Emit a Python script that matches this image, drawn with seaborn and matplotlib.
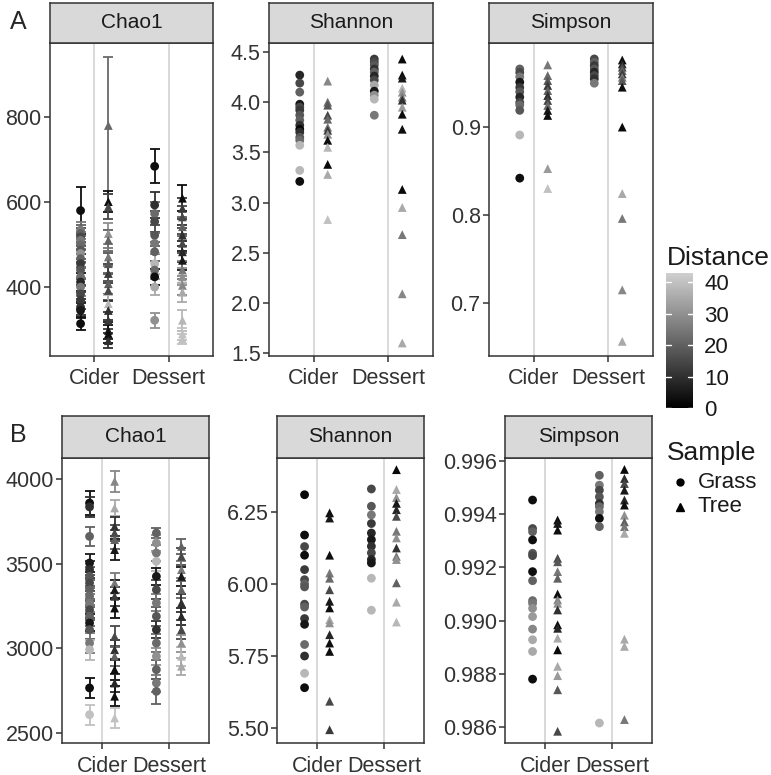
import numpy as np
import pandas as pd
import matplotlib
matplotlib.use("Agg")
import matplotlib.pyplot as plt
import seaborn as sns
from matplotlib.colors import LinearSegmentedColormap, Normalize
from matplotlib.lines import Line2D

sns.set_theme(style="white")
plt.rcParams['font.family'] = ['Liberation Sans', 'DejaVu Sans']

# ---- data: row A ----
a_chao1_cider_grass = [580, 534, 526, 518, 510, 499, 487, 479, 467, 455, 440, 424, 412, 400, 384, 369, 353, 345, 314]
a_chao1_cider_grass_se = [55, 20, 20, 22, 20, 22, 20, 22, 20, 22, 20, 22, 20, 22, 20, 20, 18, 18, 15]
a_chao1_cider_grass_d = [3, 25, 20, 15, 25, 22, 18, 30, 20, 12, 18, 22, 8, 25, 15, 12, 10, 5, 3]
a_chao1_cider_tree = [780, 601, 589, 526, 510, 471, 455, 432, 408, 392, 361, 345, 322, 298, 290, 274]
a_chao1_cider_tree_se = [160, 25, 30, 25, 25, 22, 25, 22, 25, 22, 20, 22, 20, 20, 22, 18]
a_chao1_cider_tree_d = [22, 3, 15, 30, 20, 25, 18, 12, 20, 15, 38, 10, 12, 5, 3, 10]
a_chao1_dessert_grass = [684, 593, 573, 554, 522, 503, 483, 455, 440, 424, 400, 322]
a_chao1_dessert_grass_se = [40, 30, 28, 25, 25, 25, 22, 25, 22, 18, 18, 18]
a_chao1_dessert_grass_d = [3, 10, 22, 15, 18, 25, 20, 38, 22, 3, 35, 30]
a_chao1_dessert_tree = [609, 585, 565, 542, 522, 503, 483, 463, 440, 424, 404, 388, 322, 290, 278]
a_chao1_dessert_tree_se = [30, 25, 25, 22, 25, 22, 25, 22, 22, 20, 22, 22, 25, 15, 12]
a_chao1_dessert_tree_d = [3, 12, 15, 20, 10, 15, 8, 5, 25, 30, 28, 35, 38, 40, 40]

a_shannon_cider_grass = [4.27, 4.19, 4.10, 3.98, 3.95, 3.92, 3.87, 3.82, 3.77, 3.73, 3.70, 3.65, 3.62, 3.57, 3.32, 3.21]
a_shannon_cider_grass_d = [8, 15, 20, 5, 15, 12, 18, 20, 10, 2, 10, 18, 22, 38, 38, 3]
a_shannon_cider_tree = [4.21, 4.00, 3.97, 3.87, 3.83, 3.75, 3.72, 3.68, 3.62, 3.55, 3.38, 3.28, 2.83]
a_shannon_cider_tree_d = [28, 22, 18, 15, 22, 25, 12, 30, 3, 38, 2, 35, 40]
a_shannon_dessert_grass = [4.43, 4.40, 4.37, 4.33, 4.30, 4.26, 4.22, 4.17, 4.11, 4.07, 4.03, 3.87]
a_shannon_dessert_grass_d = [12, 15, 18, 10, 20, 8, 15, 35, 5, 30, 38, 25]
a_shannon_dessert_tree = [4.43, 4.27, 4.24, 4.14, 4.10, 4.05, 4.02, 3.95, 3.88, 3.73, 3.13, 2.95, 2.68, 2.09, 1.60]
a_shannon_dessert_tree_d = [2, 3, 5, 38, 30, 25, 10, 32, 3, 3, 2, 35, 25, 28, 35]

a_simpson_cider_grass = [0.966, 0.962, 0.957, 0.951, 0.945, 0.940, 0.934, 0.928, 0.925, 0.919, 0.891, 0.842]
a_simpson_cider_grass_d = [20, 15, 25, 5, 12, 18, 8, 15, 22, 18, 38, 3]
a_simpson_cider_tree = [0.9706, 0.9585, 0.9528, 0.9472, 0.9415, 0.9358, 0.9302, 0.9245, 0.9189, 0.9132, 0.8528, 0.8302]
a_simpson_cider_tree_d = [25, 22, 18, 12, 20, 10, 15, 22, 5, 3, 32, 40]
a_simpson_dessert_grass = [0.9774, 0.9736, 0.9698, 0.966, 0.9623, 0.9585, 0.9547, 0.9498]
a_simpson_dessert_grass_d = [15, 20, 12, 18, 8, 15, 10, 25]
a_simpson_dessert_tree = [0.9762, 0.9717, 0.968, 0.9642, 0.9604, 0.9566, 0.9528, 0.9453, 0.900, 0.8245, 0.7962, 0.7151, 0.6566]
a_simpson_dessert_tree_d = [3, 8, 15, 20, 12, 25, 18, 3, 2, 35, 25, 28, 35]

# ---- data: row B ----
b_chao1_cider_grass = [3858, 3835, 3661, 3504, 3465, 3425, 3386, 3346, 3307, 3268, 3228, 3189, 3150, 3110, 3031, 2992, 2766, 2608]
b_chao1_cider_grass_se = [70, 60, 55, 55, 50, 55, 50, 55, 50, 55, 50, 55, 50, 55, 60, 60, 60, 60]
b_chao1_cider_grass_d = [3, 10, 20, 5, 10, 18, 15, 20, 22, 25, 15, 20, 5, 18, 25, 38, 3, 40]
b_chao1_cider_tree = [3986, 3829, 3720, 3681, 3642, 3583, 3386, 3346, 3307, 3238, 3071, 2992, 2953, 2874, 2795, 2717, 2589]
b_chao1_cider_tree_se = [60, 45, 55, 50, 55, 60, 60, 55, 55, 60, 60, 55, 55, 60, 55, 60, 60]
b_chao1_cider_tree_d = [28, 35, 10, 15, 20, 5, 25, 5, 12, 3, 15, 10, 20, 3, 8, 3, 40]
b_chao1_dessert_grass = [3681, 3622, 3563, 3514, 3425, 3346, 3268, 3189, 3110, 3031, 2953, 2874, 2795, 2746]
b_chao1_dessert_grass_se = [30, 50, 50, 55, 50, 55, 50, 55, 50, 55, 50, 55, 50, 75]
b_chao1_dessert_grass_d = [20, 30, 25, 38, 5, 15, 25, 18, 10, 22, 30, 20, 25, 20]
b_chao1_dessert_tree = [3602, 3543, 3465, 3425, 3346, 3268, 3189, 3110, 3031, 2953, 2894]
b_chao1_dessert_tree_se = [45, 50, 50, 55, 50, 55, 50, 55, 50, 55, 50]
b_chao1_dessert_tree_d = [20, 15, 25, 5, 20, 10, 8, 15, 30, 38, 35]

b_shannon_cider_grass = [6.31, 6.17, 6.13, 6.10, 6.05, 6.015, 6.00, 5.99, 5.93, 5.92, 5.88, 5.86, 5.79, 5.75, 5.69, 5.64]
b_shannon_cider_grass_d = [2, 3, 15, 3, 12, 15, 20, 18, 15, 20, 12, 5, 22, 10, 38, 3]
b_shannon_cider_tree = [6.247, 6.229, 6.10, 6.038, 6.02, 5.98, 5.94, 5.917, 5.876, 5.865, 5.824, 5.795, 5.766, 5.593, 5.494]
b_shannon_cider_tree_d = [3, 5, 3, 25, 22, 15, 5, 3, 35, 30, 8, 3, 3, 15, 12]
b_shannon_dessert_grass = [6.33, 6.27, 6.24, 6.21, 6.177, 6.154, 6.131, 6.108, 6.085, 6.073, 6.02, 5.909]
b_shannon_dessert_grass_d = [15, 18, 25, 12, 8, 5, 10, 15, 8, 5, 38, 38]
b_shannon_dessert_tree = [6.397, 6.328, 6.30, 6.28, 6.258, 6.235, 6.183, 6.16, 6.125, 6.096, 6.085, 6.004, 5.937, 5.868]
b_shannon_dessert_tree_d = [2, 35, 30, 5, 8, 15, 25, 30, 10, 25, 30, 20, 35, 38]

b_simpson_cider_grass = [0.99453, 0.99346, 0.99334, 0.99303, 0.99253, 0.99244, 0.99184, 0.9915, 0.99075, 0.99065, 0.99046, 0.99015, 0.98968, 0.98928, 0.98884, 0.9878]
b_simpson_cider_grass_d = [3, 15, 20, 3, 18, 15, 3, 20, 22, 25, 30, 32, 28, 35, 35, 3]
b_simpson_cider_tree = [0.99378, 0.99365, 0.9934, 0.99234, 0.99221, 0.99184, 0.99159, 0.991, 0.99078, 0.99065, 0.9904, 0.98984, 0.98971, 0.98934, 0.9889, 0.98828, 0.98793, 0.9874, 0.98584]
b_simpson_cider_tree_d = [3, 5, 3, 15, 18, 25, 20, 3, 28, 30, 10, 3, 8, 35, 2, 35, 32, 18, 15]
b_simpson_dessert_grass = [0.99546, 0.99509, 0.9949, 0.99465, 0.9944, 0.99428, 0.99409, 0.99384, 0.99353, 0.98615]
b_simpson_dessert_grass_d = [20, 25, 15, 18, 10, 22, 25, 3, 20, 38]
b_simpson_dessert_tree = [0.99568, 0.99534, 0.99515, 0.9949, 0.99453, 0.99434, 0.99396, 0.99371, 0.99353, 0.99328, 0.9893, 0.98903, 0.98628]
b_simpson_dessert_tree_d = [2, 10, 15, 5, 8, 3, 30, 20, 25, 35, 35, 35, 25]

categories = ["Cider", "Dessert"]
samples = ["Grass", "Tree"]

cmap = LinearSegmentedColormap.from_list("dist", ["#000000", "#cfcfcf"])
norm = Normalize(0, 43)
W, H = 771, 775


def panel_df(prefix):
    g = globals()
    rows = []
    for cat in categories:
        for smp in samples:
            key = f"{prefix}_{cat.lower()}_{smp.lower()}"
            vals = g[key]
            dist = g[key + "_d"]
            se = g.get(key + "_se", [np.nan] * len(vals))
            for v, d, s in zip(vals, dist, se):
                rows.append({"Type": cat, "Sample": smp, "value": v, "Distance": d, "se": s})
    df = pd.DataFrame(rows)
    df["pos"] = df["Type"].map({c: i for i, c in enumerate(categories)}) + \
        df["Sample"].map({"Grass": -0.1875, "Tree": 0.1875})
    return df


def px_axes(fig, x0, y0, x1, y1):
    return fig.add_axes([x0 / W, 1 - y1 / H, (x1 - x0) / W, (y1 - y0) / H])


fig = plt.figure(figsize=(W / 100, H / 100), dpi=100)

panels = [
    # prefix, title, axes box (px), strip top, ylim, ticks, fmt
    ("a_chao1", "Chao1", (50, 43, 213, 356), 3, (238, 974), [400, 600, 800], "{:.0f}"),
    ("a_shannon", "Shannon", (269, 43, 433, 356), 3, (1.47, 4.59), [1.5, 2.0, 2.5, 3.0, 3.5, 4.0, 4.5], "{:.1f}"),
    ("a_simpson", "Simpson", (489, 43, 653, 356), 3, (0.640, 0.9955), [0.7, 0.8, 0.9], "{:.1f}"),
    ("b_chao1", "Chao1", (62, 458, 209, 743), 416, (2441, 4124), [2500, 3000, 3500, 4000], "{:.0f}"),
    ("b_shannon", "Shannon", (277, 458, 424, 743), 416, (5.448, 6.4375), [5.50, 5.75, 6.00, 6.25], "{:.2f}"),
    ("b_simpson", "Simpson", (505, 458, 652, 743), 416, (0.9854, 0.99611), [0.986, 0.988, 0.990, 0.992, 0.994, 0.996], "{:.3f}"),
]

for prefix, title, (x0, y0, x1, y1), st, ylim, ticks, fmt in panels:
    df = panel_df(prefix)
    ax = px_axes(fig, x0, y0, x1, y1)
    ax.set_facecolor("white")
    for i in range(len(categories)):
        ax.axvline(i, color="#d0d0d0", lw=1.1, zorder=0)
    if df["se"].notna().any():
        for _, r in df.iterrows():
            ax.errorbar(r["pos"], r["value"], yerr=r["se"], fmt="none",
                        ecolor=cmap(norm(r["Distance"])), elinewidth=1.3,
                        capsize=3.6, capthick=1.3, zorder=2)
    sns.scatterplot(data=df, x="pos", y="value", hue="Distance", palette=cmap,
                    hue_norm=norm, style="Sample", markers={"Grass": "o", "Tree": "^"},
                    s=40, linewidth=0, legend=False, ax=ax, zorder=3)
    ax.set_xlim(-0.6, 1.6)
    ax.set_ylim(*ylim)
    ax.set_xticks(range(len(categories)))
    ax.set_xticklabels(categories)
    ax.set_yticks(ticks)
    ax.set_yticklabels([fmt.format(t) for t in ticks])
    ax.set_xlabel("")
    ax.set_ylabel("")
    ax.tick_params(axis="both", direction="out", length=4, width=1.1, color="#333333",
                   labelsize=15.5, labelcolor="#333333", pad=2, bottom=True, left=True)
    ax.tick_params(axis="x", pad=5)
    for sp in ax.spines.values():
        sp.set_color("#333333")
        sp.set_linewidth(1.1)
    # facet strip
    sax = px_axes(fig, x0, st, x1, y0)
    sax.set_facecolor("#d9d9d9")
    sax.set_xticks([])
    sax.set_yticks([])
    for sp in sax.spines.values():
        sp.set_color("#333333")
        sp.set_linewidth(1.1)
    sax.text(0.5, 0.5, title, ha="center", va="center", fontsize=15, color="#1a1a1a",
             transform=sax.transAxes)

# panel letters
fig.text(10 / W, 1 - 22 / H, "A", fontsize=18, ha="left", va="center")
fig.text(10 / W, 1 - 435 / H, "B", fontsize=18, ha="left", va="center")

# Distance colourbar
cax = px_axes(fig, 666, 273, 693, 408)
sm = plt.cm.ScalarMappable(cmap=cmap, norm=norm)
cb = fig.colorbar(sm, cax=cax, ticks=[0, 10, 20, 30, 40])
cb.outline.set_visible(False)
cax.tick_params(length=0, labelsize=16, pad=8, colors="#1a1a1a")
for t in [0, 10, 20, 30, 40]:
    cax.plot([0, 0.2], [t, t], color="white", lw=1, transform=cax.get_yaxis_transform())
    cax.plot([0.8, 1.0], [t, t], color="white", lw=1, transform=cax.get_yaxis_transform())
fig.text(667 / W, 1 - 258 / H, "Distance", fontsize=19, ha="left", va="center", color="#1a1a1a")

# Sample legend
fig.text(667 / W, 1 - 453 / H, "Sample", fontsize=19, ha="left", va="center", color="#1a1a1a")
lax = px_axes(fig, 660, 465, 771, 525)
lax.set_xlim(0, 111)
lax.set_ylim(60, 0)
lax.axis("off")
lax.add_line(Line2D([20], [17], marker="o", color="black", markersize=5, linestyle="none"))
lax.add_line(Line2D([20], [42], marker="^", color="black", markersize=5.5, linestyle="none"))
lax.text(38, 17, "Grass", fontsize=16, va="center", color="#1a1a1a")
lax.text(38, 42, "Tree", fontsize=16, va="center", color="#1a1a1a")

fig.savefig("out.png", dpi=100)
